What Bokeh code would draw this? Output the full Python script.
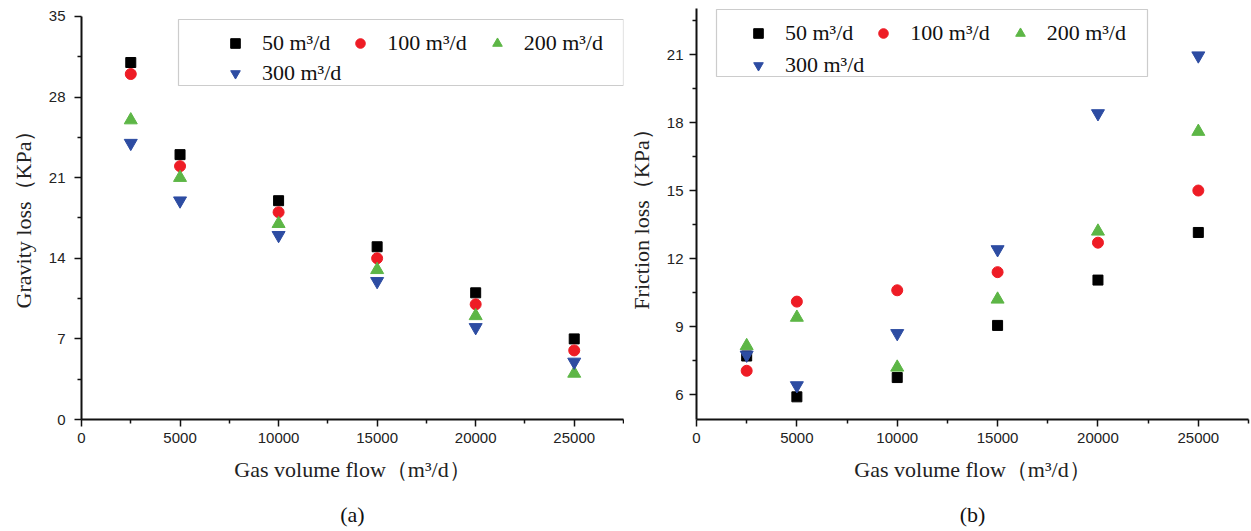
from bokeh.plotting import figure
from bokeh.models import (Range1d, FixedTicker, Legend, LegendItem, BoxAnnotation,
                          LinearAxis)
from bokeh.layouts import row
from bokeh.embed import file_html
from bokeh.resources import INLINE

# ---------------- data ----------------
flow = [2500, 5000, 10000, 15000, 20000, 25000]
series_labels = ["50 m³/d", "100 m³/d", "200 m³/d", "300 m³/d"]

gravity_50 = [31, 23, 19, 15, 11, 7]
gravity_100 = [30, 22, 18, 14, 10, 6]
gravity_200 = [26, 21, 17, 13, 9, 4]
gravity_300 = [24, 19, 16, 12, 8, 5]

friction_50 = [7.7, 5.9, 6.75, 9.05, 11.05, 13.15]
friction_100 = [7.05, 10.1, 10.6, 11.4, 12.7, 15.0]
friction_200 = [8.15, 9.4, 7.2, 10.2, 13.2, 17.6]
friction_300 = [7.75, 6.4, 8.7, 12.4, 18.4, 20.95]

x_ticks = [0, 5000, 10000, 15000, 20000, 25000]
x_minor = [2500, 7500, 12500, 17500, 22500, 27500]
gravity_ticks = [0, 7, 14, 21, 28, 35]
gravity_minor = [3.5, 10.5, 17.5, 24.5, 31.5]
friction_ticks = [6, 9, 12, 15, 18, 21]
friction_minor = [7.5, 10.5, 13.5, 16.5, 19.5, 22.5]

markers = ["square", "circle", "triangle", "inverted_triangle"]
sizes = [10, 11, 13, 13]
colors = ["#000000", "#EE1C25", "#5DB646", "#2D4CA2"]

SERIF = "Liberation Serif"
SANS = "Liberation Sans"
H = 530


def make_legend(items, loc):
    return Legend(items=items, location=loc, orientation="horizontal",
                  padding=0, margin=0, spacing=12, glyph_width=36, glyph_height=24,
                  label_height=24, label_standoff=9,
                  label_text_font=SERIF, label_text_font_size="22px",
                  label_text_color="#111111",
                  border_line_alpha=0, background_fill_alpha=0)


def make_panel(series, ylabel, yr, ybounds, yticks, yminor, letter, width, border_left,
               border_right, leg1, leg2, box, ylab_standoff, ytick_standoff):
    p = figure(width=width, height=H, output_backend="svg", toolbar_location=None,
               x_range=Range1d(0, 27500), y_range=Range1d(*yr),
               min_border_left=border_left, min_border_right=border_right,
               min_border_top=8, min_border_bottom=H - 419)
    p.outline_line_color = None
    p.xgrid.visible = False
    p.ygrid.visible = False
    p.background_fill_color = "white"

    for ax in (p.xaxis[0], p.yaxis[0]):
        ax.axis_line_width = 2
        ax.axis_line_color = "#111111"
        ax.major_tick_line_width = 1.5
        ax.minor_tick_line_width = 1.5
        ax.major_tick_line_color = "#111111"
        ax.minor_tick_line_color = "#111111"
        ax.major_tick_in = 0
        ax.major_tick_out = 7
        ax.minor_tick_in = 0
        ax.minor_tick_out = 4
        ax.major_label_text_font = SANS
        ax.major_label_text_font_size = "15px"
        ax.major_label_text_color = "#222222"
        ax.axis_label_text_font = SERIF
        ax.axis_label_text_font_size = "22px"
        ax.axis_label_text_font_style = "normal"
        ax.axis_label_text_color = "#222222"

    p.xaxis.ticker = FixedTicker(ticks=x_ticks, minor_ticks=x_minor)
    p.yaxis.ticker = FixedTicker(ticks=yticks, minor_ticks=yminor)
    if ybounds is not None:
        p.yaxis.bounds = ybounds
    p.xaxis.major_label_standoff = 6
    p.yaxis.major_label_standoff = ytick_standoff
    p.xaxis.axis_label = "Gas volume flow（m³/d）"
    p.yaxis.axis_label = ylabel
    p.xaxis.axis_label_standoff = 11
    p.yaxis.axis_label_standoff = ylab_standoff

    # panel letter as the label of a bare axis stacked below the x axis
    letter_axis = LinearAxis(ticker=FixedTicker(ticks=[]), axis_label=letter,
                             axis_line_alpha=0, major_tick_out=0, minor_tick_out=0,
                             major_tick_in=0, minor_tick_in=0,
                             axis_label_standoff=17, axis_label_text_font=SERIF,
                             axis_label_text_font_size="22px",
                             axis_label_text_font_style="normal",
                             axis_label_text_color="#111111")
    p.add_layout(letter_axis, "below")

    items = []
    for vals, lab, mk, sz, col in zip(series, series_labels, markers, sizes, colors):
        r = p.scatter(flow, vals, marker=mk, size=sz, fill_color=col, line_color=col)
        items.append(LegendItem(label=lab, renderers=[r]))

    bl, br, bb, bt = box
    p.add_layout(BoxAnnotation(left=bl, right=br, bottom=bb, top=bt,
                               left_units="screen", right_units="screen",
                               bottom_units="screen", top_units="screen",
                               fill_alpha=0, line_color="#555555", line_width=1.2))

    p.add_layout(make_legend(items[:3], leg1))
    p.add_layout(make_legend(items[3:], leg2))
    return p


pa = make_panel([gravity_50, gravity_100, gravity_200, gravity_300],
                "Gravity loss（KPa）", (0, 35.69), (0, 35), gravity_ticks, gravity_minor,
                "(a)", 624, 81, 1, (136, 363), (136, 333), (97, 542, 334, 400), 10, 9)
pb = make_panel([friction_50, friction_100, friction_200, friction_300],
                "Friction loss（KPa）", (4.9, 23.03), None, friction_ticks, friction_minor,
                "(b)", 627, 72, 3, (44, 373), (44, 341), (20, 451, 343, 410), 10, 6)

layout = row(pa, pb)
open("out.html", "w").write(file_html(layout, INLINE))
